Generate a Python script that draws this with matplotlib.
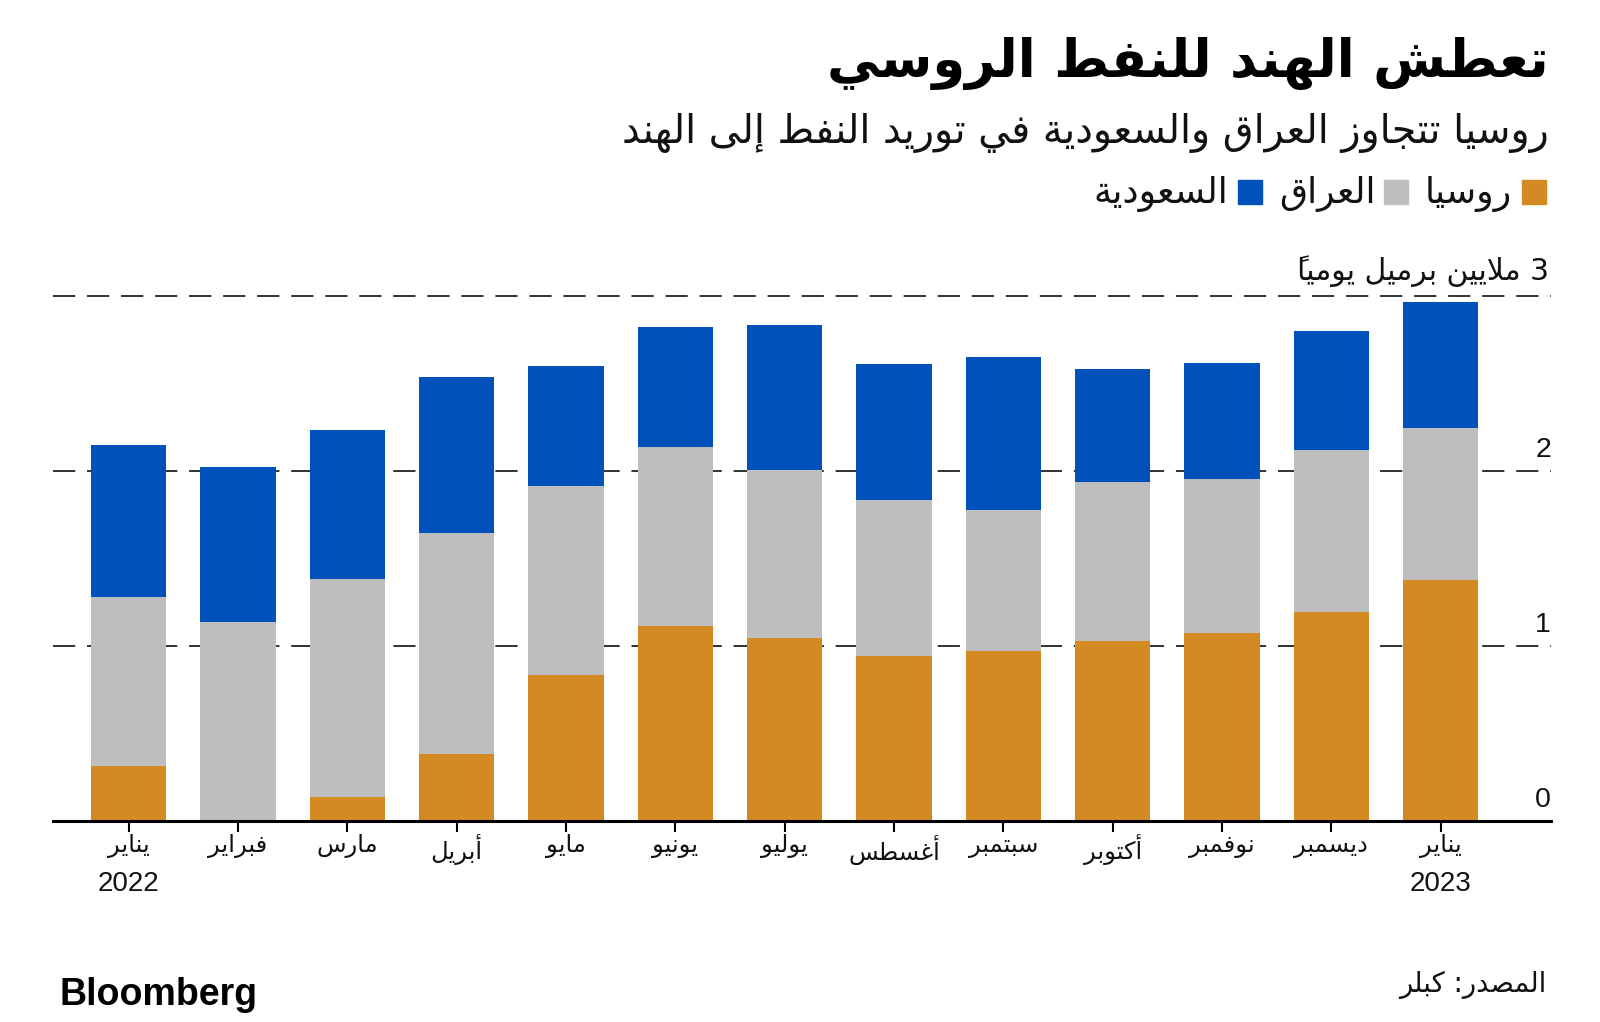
import matplotlib
matplotlib.use("Agg")
import matplotlib.pyplot as plt
import numpy as np

# ---------------- data ----------------
months = ["يناير", "فبراير", "مارس", "أبريل", "مايو", "يونيو", "يوليو",
          "أغسطس", "سبتمبر", "أكتوبر", "نوفمبر", "ديسمبر", "يناير"]
years = {0: "2022", 12: "2023"}
russia = [0.31, 0.0, 0.135, 0.383, 0.834, 1.114, 1.044, 0.939, 0.968, 1.026, 1.070, 1.194, 1.378]
iraq   = [0.967, 1.134, 1.245, 1.259, 1.078, 1.020, 0.962, 0.892, 0.810, 0.910, 0.882, 0.924, 0.869]
saudi  = [0.873, 0.889, 0.853, 0.894, 0.689, 0.688, 0.828, 0.781, 0.875, 0.647, 0.664, 0.682, 0.718]
series_names = ["روسيا", "العراق", "السعودية"]
colors = ["#D48A22", "#BEBEBE", "#0051BA"]
yticks = [0, 1, 2]
title = "تعطش الهند للنفط الروسي"
subtitle = "روسيا تتجاوز العراق والسعودية في توريد النفط إلى الهند"
unit_label = "3 ملايين برميل يومياً"
source = "المصدر: كبلر"

# ---------------- minimal Arabic shaping (presentation forms) ----------------
DUAL = {'ئ': 0xFE89, 'ب': 0xFE8F, 'ت': 0xFE95, 'ث': 0xFE99, 'ج': 0xFE9D, 'ح': 0xFEA1,
        'خ': 0xFEA5, 'س': 0xFEB1, 'ش': 0xFEB5, 'ص': 0xFEB9, 'ض': 0xFEBD, 'ط': 0xFEC1,
        'ظ': 0xFEC5, 'ع': 0xFEC9, 'غ': 0xFECD, 'ف': 0xFED1, 'ق': 0xFED5, 'ك': 0xFED9,
        'ل': 0xFEDD, 'م': 0xFEE1, 'ن': 0xFEE5, 'ه': 0xFEE9, 'ي': 0xFEF1}
RIGHT = {'آ': 0xFE81, 'أ': 0xFE83, 'ؤ': 0xFE85, 'إ': 0xFE87, 'ا': 0xFE8D, 'ة': 0xFE93,
         'د': 0xFEA9, 'ذ': 0xFEAB, 'ر': 0xFEAD, 'ز': 0xFEAF, 'و': 0xFEED, 'ى': 0xFEEF}
LAMALEF = {'آ': 0xFEF5, 'أ': 0xFEF7, 'إ': 0xFEF9, 'ا': 0xFEFB}


def is_mark(c):
    o = ord(c)
    return 0x064B <= o <= 0x065F or o == 0x0670


def is_ltr(c):
    return c.isascii() and c.isalnum()


def ar(text):
    toks = []
    chars = list(text)
    i = 0
    while i < len(chars):
        c = chars[i]
        if is_mark(c) and toks:
            toks[-1]['marks'] += c
            i += 1
            continue
        if c == 'ل' and i + 1 < len(chars) and chars[i + 1] in LAMALEF:
            toks.append({'c': c, 't': 'L', 'b': LAMALEF[chars[i + 1]], 'marks': ''})
            i += 2
            continue
        if c in DUAL:
            toks.append({'c': c, 't': 'D', 'b': DUAL[c], 'marks': ''})
        elif c in RIGHT:
            toks.append({'c': c, 't': 'R', 'b': RIGHT[c], 'marks': ''})
        elif c == 'ء':
            toks.append({'c': c, 't': 'U', 'b': 0xFE80, 'marks': ''})
        else:
            toks.append({'c': c, 't': 'N', 'b': None, 'marks': ''})
        i += 1
    out = []
    for k, t in enumerate(toks):
        if t['t'] == 'N':
            g = t['c']
        elif t['t'] == 'U':
            g = chr(t['b'])
        else:
            prev = toks[k - 1] if k > 0 else None
            nxt = toks[k + 1] if k + 1 < len(toks) else None
            jp = prev is not None and prev['t'] == 'D'
            jn = t['t'] == 'D' and nxt is not None and nxt['t'] in ('D', 'R', 'L')
            b = t['b']
            if t['t'] == 'D':
                g = chr(b + (3 if (jp and jn) else 1 if jp else 2 if jn else 0))
            else:
                g = chr(b + (1 if jp else 0))
        # zero-advance marks are drawn at the pen position, so put them before their base
        out.append((t['marks'] + g, t['t'] == 'N' and is_ltr(t['c'])))
    out = out[::-1]
    res = []
    run = []
    for s, l in out:
        if l:
            run.append(s)
        else:
            if run:
                res.extend(run[::-1])
                run = []
            res.append(s)
    if run:
        res.extend(run[::-1])
    return ''.join(res)


# ---------------- figure ----------------
W, H = 1600, 1022
fig = plt.figure(figsize=(W / 100, H / 100), dpi=100)
fig.patch.set_facecolor("white")

AR = ["DejaVu Sans"]
LAT = ["Liberation Sans", "DejaVu Sans"]

ax_left, ax_right = 53, 1551
y0_px, y3_px = 820.5, 295.9
ymax = 3.1
top_px = y0_px - (y0_px - y3_px) * ymax / 3.0
ax = fig.add_axes([ax_left / W, 1 - y0_px / H, (ax_right - ax_left) / W, (y0_px - top_px) / H])

x = np.arange(len(months))
ax.set_xlim(-0.692, 13.01)
ax.set_ylim(0, ymax)

plt.rcParams['lines.scale_dashes'] = False
for v in [1, 2, 3]:
    ax.axhline(v, color="#222222", lw=1.3, dashes=(16, 8.5), zorder=1, clip_on=False)

bw = 0.69
bottom = np.zeros(len(x))
for vals, col in zip([russia, iraq, saudi], colors):
    ax.bar(x, vals, bw, bottom=bottom, color=col, edgecolor="none", zorder=2)
    bottom += np.array(vals)

ax.axhline(0, color="black", lw=2.2, zorder=3, clip_on=False)

for s in ax.spines.values():
    s.set_visible(False)
ax.set_yticks([])
ax.set_xticks(x)
ax.set_xticklabels([])
ax.tick_params(axis='x', length=8, width=1.5, color="black", direction='out', pad=0)

for i, m in enumerate(months):
    ax.text(x[i], -0.08, ar(m), ha='center', va='top', fontsize=17.5, family=AR, color="#111111")
    if i in years:
        ax.text(x[i], -0.29, years[i], ha='center', va='top', fontsize=20, family=LAT, color="#111111")

for v in yticks:
    ax.text(13.01, v + 0.045, str(v), ha='right', va='bottom', fontsize=20.5, family=LAT, color="#111111")

fig.text(1549 / W, 1 - 271 / H, ar(unit_label), ha='right', va='center', fontsize=21.5,
         family=AR, color="#111111")

fig.text(1549 / W, 1 - 64 / H, ar(title), ha='right', va='center', fontsize=38,
         family=AR, weight='bold', color="black")
fig.text(1549 / W, 1 - 133 / H, ar(subtitle), ha='right', va='center', fontsize=28.5,
         family=AR, color="#111111")

leg_items = [(1546, 1512, 0), (1408, 1376, 1), (1262, 1228, 2)]
for sq_right, txt_right, k in leg_items:
    size = 24
    fig.patches.append(plt.Rectangle(((sq_right - size) / W, 1 - (192 + size / 2) / H), size / W, size / H,
                                     transform=fig.transFigure, color=colors[k], figure=fig))
    fig.text(txt_right / W, 1 - 194 / H, ar(series_names[k]), ha='right', va='center', fontsize=26,
             family=AR, color="#111111")

fig.text(1546 / W, 1 - 985 / H, ar(source), ha='right', va='center', fontsize=19.8, family=AR, color="#111111")
fig.text(59 / W, 1 - 995 / H, "Bloomberg", ha='left', va='center', fontsize=27, family=LAT,
         weight='bold', color="black")

fig.savefig("out.png", dpi=100, facecolor="white")
